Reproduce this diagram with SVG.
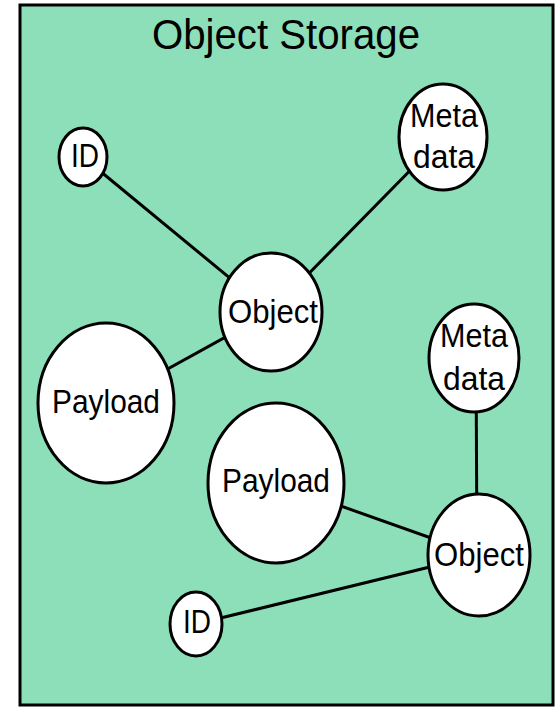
<svg xmlns="http://www.w3.org/2000/svg" width="558" height="708" viewBox="0 0 558 708">
<style>
.n{fill:#fff;stroke:#000;stroke-width:3}
.t{font-family:"Liberation Sans",Arial,sans-serif;font-size:33px;text-anchor:middle;fill:#000}
.c{stroke:#000;stroke-width:3;fill:none}
</style>
<rect x="20" y="5" width="533" height="700" fill="#8ddfba" stroke="#000" stroke-width="3"/>
<text x="286" y="49" class="t" style="font-size:42px" textLength="268" lengthAdjust="spacingAndGlyphs">Object Storage</text>
<g id="connectors">
<line class="c" x1="83" y1="157" x2="271" y2="312"/>
<line class="c" x1="443" y1="137" x2="271" y2="312"/>
<line class="c" x1="271" y1="312" x2="106" y2="403"/>
<line class="c" x1="476" y1="358" x2="477" y2="555"/>
<line class="c" x1="276" y1="483" x2="479" y2="555"/>
<line class="c" x1="196" y1="624" x2="479" y2="555"/>
</g>
<g id="id1"><ellipse class="n" cx="83" cy="157" rx="24" ry="29"/><text class="t" x="85" y="167" textLength="28" lengthAdjust="spacingAndGlyphs">ID</text></g>
<g id="meta1"><ellipse class="n" cx="443" cy="137" rx="44" ry="53"/><text class="t" x="444" y="127" textLength="68" lengthAdjust="spacingAndGlyphs">Meta</text><text class="t" x="444" y="168" textLength="62" lengthAdjust="spacingAndGlyphs">data</text></g>
<g id="object1"><ellipse class="n" cx="271" cy="312" rx="51" ry="59"/><text class="t" x="273" y="323" textLength="90" lengthAdjust="spacingAndGlyphs">Object</text></g>
<g id="payload1"><ellipse class="n" cx="106" cy="403" rx="68" ry="80"/><text class="t" x="106" y="413" textLength="108" lengthAdjust="spacingAndGlyphs">Payload</text></g>
<g id="meta2"><ellipse class="n" cx="474" cy="358" rx="45" ry="54"/><text class="t" x="474" y="347" textLength="68" lengthAdjust="spacingAndGlyphs">Meta</text><text class="t" x="474" y="390" textLength="62" lengthAdjust="spacingAndGlyphs">data</text></g>
<g id="payload2"><ellipse class="n" cx="276" cy="483" rx="68" ry="80"/><text class="t" x="276" y="492" textLength="108" lengthAdjust="spacingAndGlyphs">Payload</text></g>
<g id="object2"><ellipse class="n" cx="479" cy="555" rx="51" ry="61"/><text class="t" x="479" y="566" textLength="90" lengthAdjust="spacingAndGlyphs">Object</text></g>
<g id="id2"><ellipse class="n" cx="196" cy="624" rx="26" ry="32"/><text class="t" x="197" y="633" textLength="28" lengthAdjust="spacingAndGlyphs">ID</text></g>
</svg>
